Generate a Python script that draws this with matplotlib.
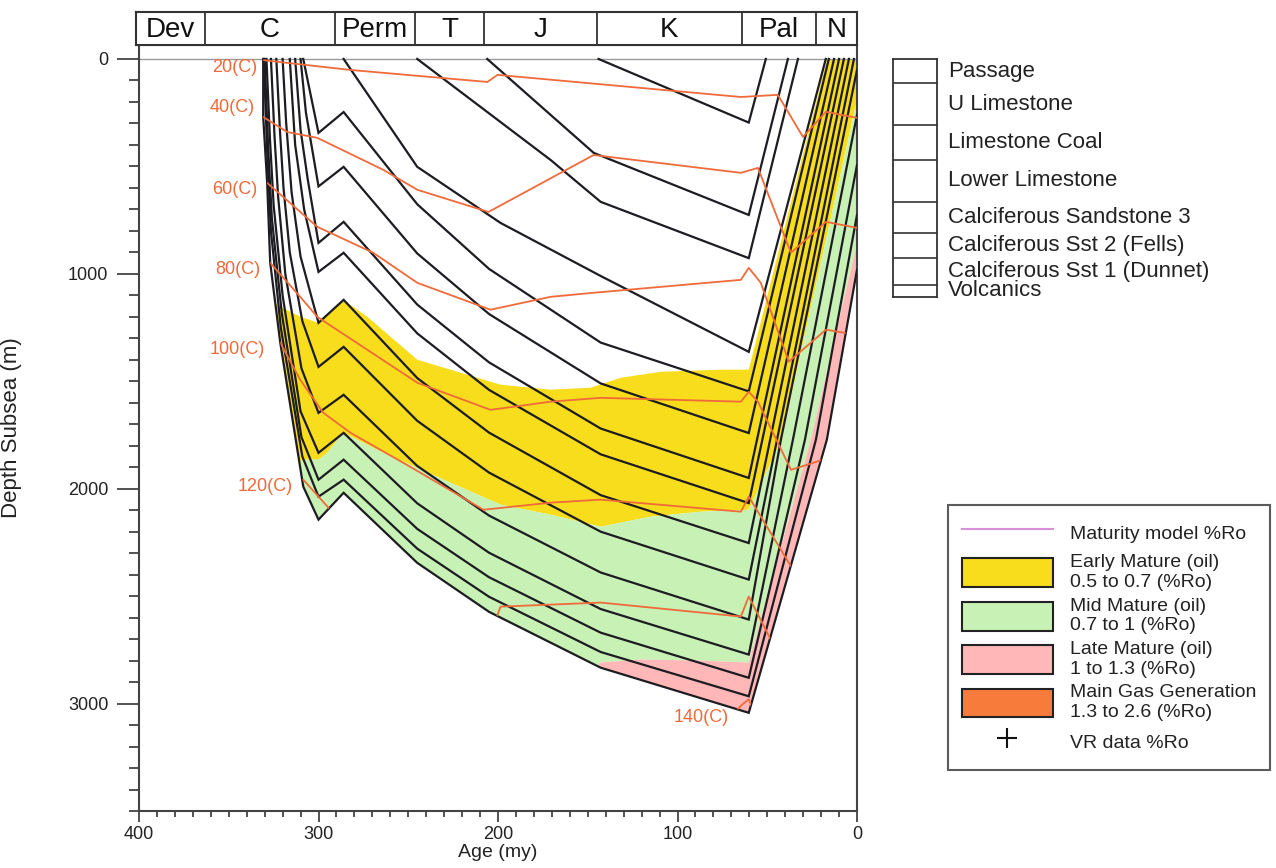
import matplotlib
matplotlib.use("Agg")
import matplotlib.pyplot as plt
from matplotlib.patches import Polygon, Patch
from matplotlib.lines import Line2D
from matplotlib.ticker import MultipleLocator, FixedLocator

plt.rcParams['font.family'] = ['Liberation Sans', 'DejaVu Sans']

# ---------------- data ----------------
period_names = ["Dev", "C", "Perm", "T", "J", "K", "Pal", "N"]
period_bounds = [401.7, 363, 291, 246, 208, 145, 64, 23, 0]

# burial curves (age Ma, depth m) - upper units (later eroded)
A_age = [144, 60.3, 50.8]
A_dep = [0, 296, 0]
B_age = [206, 146.7, 60.3, 38.5]
B_dep = [0, 437, 726, 0]
C_age = [245, 170.7, 142.8, 60.3, 32.9]
C_dep = [0, 470, 665, 927, 0]
D_age = [286, 245, 198.6, 142.8, 60.3, 17.4]
D_dep = [0, 502, 763, 1010, 1363, 0]
# Carboniferous units
L1_age = [308.5, 300, 286, 245, 205, 142.8, 60.3, 15.7]
L1_dep = [0, 344, 247, 676, 977, 1320, 1547, 0]
L2_age = [310, 307, 300, 286, 245, 205, 142.8, 60.3, 12.8]
L2_dep = [0, 250, 593, 502, 905, 1187, 1510, 1741, 0]
L3_age = [313, 310, 306, 300, 286, 245, 205, 142.8, 60.3, 10.0]
L3_dep = [0, 330, 560, 856, 758, 1143, 1412, 1720, 1950, 0]
L4_age = [316, 313, 308, 300, 286, 245, 205, 142.8, 60.3, 7.3]
L4_dep = [0, 400, 700, 991, 902, 1277, 1540, 1840, 2067, 0]
L5_age = [320, 318, 315, 310, 300, 286, 245, 205, 142.8, 60.3, 4.5]
L5_dep = [0, 300, 620, 920, 1228, 1121, 1485, 1739, 2030, 2253, 0]
L6_age = [323.5, 321.5, 319.5, 316, 309, 300, 286, 245, 205, 142.8, 60.3, 1.7]
L6_dep = [0, 330, 600, 900, 1220, 1433, 1340, 1684, 1925, 2200, 2423, 0]
L7_age = [326.5, 324.5, 322.5, 318.5, 309.5, 300, 286, 245, 205, 142.8, 60.3, 42.4, 0]
L7_dep = [0, 360, 640, 1000, 1440, 1647, 1563, 1894, 2125, 2390, 2609, 1772, 51]
L8_age = [329, 327, 325, 320, 310, 300, 286, 245, 205, 142.8, 60.3, 35.7, 0]
L8_dep = [0, 380, 680, 1100, 1640, 1833, 1740, 2068, 2298, 2560, 2772, 1772, 260]
L9_age = [330, 328, 326, 320.5, 309.5, 300, 286, 245, 205, 142.8, 60.3, 29.0, 0]
L9_dep = [0, 420, 740, 1180, 1760, 1958, 1865, 2187, 2412, 2670, 2880, 1772, 493]
L10_age = [330.5, 328.5, 326.5, 321, 309, 300, 286, 245, 205, 142.8, 60.3, 22.9, 0]
L10_dep = [0, 450, 800, 1250, 1850, 2037, 1958, 2279, 2503, 2760, 2966, 1772, 726]
base_age = [330.8, 330.8, 328.6, 326.9, 321.3, 308.5, 300, 286, 245, 205, 142.8, 60.3, 16.8, 0]
base_dep = [0, 270, 577, 949, 1321, 1990, 2144, 2019, 2345, 2573, 2833, 3043, 1772, 981]

# isotherms
T20_age = [331.4, 282.3, 205.9, 200.3, 64.7, 44.1, 30.1, 17.3, 0]
T20_dep = [5, 51, 107, 74, 177, 167, 363, 246, 274]
T40_age = [330.8, 317.4, 300.7, 263.9, 244.9, 205.3, 146.7, 64.7, 55.2, 36.8, 17.3, 0]
T40_dep = [270, 340, 367, 516, 609, 712, 447, 530, 507, 902, 758, 786]
T60_age = [328.6, 319.7, 300.7, 269.5, 244.9, 204.2, 170.7, 146.7, 64.7, 60.3, 53.6, 38, 17.3, 0]
T60_dep = [577, 642, 781, 902, 1042, 1167, 1107, 1088, 1028, 972, 1042, 1409, 1260, 1284]
T80_age = [326.9, 310.2, 300.7, 244.9, 204.2, 170.7, 142.8, 64.7, 60.3, 55.2, 36.8, 24, 8]
T80_dep = [949, 1107, 1200, 1507, 1633, 1595, 1577, 1595, 1549, 1595, 1912, 1879, 1830]
T100_age = [321.3, 310.2, 297.4, 282.3, 248.9, 208.1, 170.7, 142.8, 64.7, 60.3, 55.2, 34.0, 26]
T100_dep = [1321, 1493, 1646, 1739, 1898, 2098, 2065, 2051, 2107, 2037, 2107, 2400, 2370]
T120_age = [308.5, 293.4, 285, 245, 205, 198.6, 142.8, 64.7, 60.3, 55.2, 45.2]
T120_dep = [1958, 2098, 2200, 2600, 2700, 2549, 2530, 2595, 2502, 2585, 2749]
T140_age = [80, 64.7, 60.3, 57, 50]
T140_dep = [3150, 3010, 2980, 3050, 3150]
iso_labels = ["20(C)", "40(C)", "60(C)", "80(C)", "100(C)", "120(C)", "140(C)"]
iso_label_age = [334.2, 335.3, 334.2, 332.5, 329.7, 314.6, 87.0]
iso_label_dep = [42, 228, 609, 981, 1353, 1991, 3065]

# maturity (vitrinite reflectance) boundaries
ro05_age = [332, 321.3, 310, 300, 286.2, 272.8, 244.9, 226.5, 198.6, 170.7, 148.4, 131.7, 109.4, 75.9, 60.3, 16.7]
ro05_dep = [1100, 1153, 1200, 1228, 1121, 1200, 1400, 1446, 1516, 1539, 1530, 1484, 1456, 1446, 1446, 0]
ro07_age = [332, 312, 308.6, 300, 295.1, 286.2, 263.9, 226.5, 198.6, 170.7, 142.8, 114.9, 87.0, 60.3, 42.0, 0]
ro07_dep = [2300, 1880, 1865, 1865, 1833, 1740, 1833, 1972, 2074, 2121, 2177, 2130, 2107, 2098, 1772, 190]
ro10_age = [332, 245, 160, 150, 142.8, 120.5, 87.0, 60.3, 25.7, 0]
ro10_dep = [3600, 3000, 2900, 2860, 2809, 2795, 2800, 2809, 1772, 860]

layer_names = ["Passage", "U Limestone", "Limestone Coal", "Lower Limestone",
               "Calciferous Sandstone 3", "Calciferous Sst 2 (Fells)",
               "Calciferous Sst 1 (Dunnet)", "Volcanics"]

# ---------------- style ----------------
YEL = '#f7dd1c'
GRN = '#c8f1b6'
PNK = '#ffb7b7'
ORG = '#f77c3c'
ISO = '#f06a3a'
LINEC = '#1c1c22'
TXT = '#222222'

W, H = 1276, 868
fig = plt.figure(figsize=(W / 100, H / 100), dpi=100)


def px_rect(x0, y0, x1, y1):
    return [x0 / W, 1 - y1 / H, (x1 - x0) / W, (y1 - y0) / H]


ax = fig.add_axes(px_rect(139, 45, 857, 811))
ax.set_xlim(400, 0)
ax.set_ylim(3500, -65)

# envelope of the sediment column (above the base horizon)
env_pts = list(zip(base_age, base_dep)) + [(0, 0), (base_age[0], 0)]
env = Polygon(env_pts, closed=True, facecolor='none', edgecolor='none')
ax.add_patch(env)

top = -60
yellow_pts = list(zip(ro05_age, ro05_dep)) + [(0, top)] + list(zip(ro07_age, ro07_dep))[::-1]
green_pts = list(zip(ro07_age, ro07_dep)) + list(zip(ro10_age, ro10_dep))[::-1]
pink_pts = list(zip(ro10_age, ro10_dep)) + [(0, 5000), (ro10_age[0], 5000)]
for pts, col in [(yellow_pts, YEL), (green_pts, GRN), (pink_pts, PNK)]:
    p = Polygon(pts, closed=True, facecolor=col, edgecolor='none', zorder=1)
    ax.add_patch(p)
    p.set_clip_path(env)

ax.axhline(0, color='#9a9a9a', lw=1.0, zorder=2)

horizons = [(A_age, A_dep), (B_age, B_dep), (C_age, C_dep), (D_age, D_dep),
            (L1_age, L1_dep), (L2_age, L2_dep), (L3_age, L3_dep), (L4_age, L4_dep),
            (L5_age, L5_dep), (L6_age, L6_dep), (L7_age, L7_dep), (L8_age, L8_dep),
            (L9_age, L9_dep), (L10_age, L10_dep), (base_age, base_dep)]
for a, d in horizons:
    ax.plot(a, d, color=LINEC, lw=1.6, zorder=3, solid_joinstyle='miter')

isotherms = [(T20_age, T20_dep), (T40_age, T40_dep), (T60_age, T60_dep),
             (T80_age, T80_dep), (T100_age, T100_dep), (T120_age, T120_dep),
             (T140_age, T140_dep)]
for a, d in isotherms:
    ln, = ax.plot(a, d, color=ISO, lw=1.3, zorder=4)
    ln.set_clip_path(env)

for i, (lab, la, ld) in enumerate(zip(iso_labels, iso_label_age, iso_label_dep)):
    ax.text(la, ld, lab, color=ISO, fontsize=13, ha='center' if i == 6 else 'right',
            va='center', zorder=5)

# axes styling
for s in ax.spines.values():
    s.set_linewidth(1.5)
    s.set_color('#444444')
ax.xaxis.set_major_locator(MultipleLocator(100))
ax.xaxis.set_minor_locator(MultipleLocator(10))
ax.yaxis.set_major_locator(FixedLocator([0, 1000, 2000, 3000]))
ax.yaxis.set_minor_locator(MultipleLocator(100))
ax.tick_params(axis='y', which='major', length=16, width=1.3, pad=6, labelsize=13,
               colors='#444444', labelcolor=TXT)
ax.tick_params(axis='y', which='minor', length=7, width=1.3, colors='#444444')
ax.tick_params(axis='x', which='major', length=8, width=1.3, pad=3, labelsize=13,
               colors='#444444', labelcolor=TXT)
ax.tick_params(axis='x', which='minor', length=4, width=1.3, colors='#444444')
ax.set_ylabel("Depth Subsea (m)", fontsize=16, color=TXT)
ax.set_xlabel("Age (my)", fontsize=14, color=TXT)
ax.yaxis.set_label_coords(-0.163, 0.5)
ax.xaxis.set_label_coords(0.5, -0.043)

# geological time scale bar
tax = fig.add_axes(px_rect(136, 12, 857, 45))
tax.set_xlim(period_bounds[0], period_bounds[-1])
tax.set_ylim(0, 1)
tax.set_xticks([])
tax.set_yticks([])
for s in tax.spines.values():
    s.set_linewidth(1.5)
    s.set_color('#333333')
for b in period_bounds[1:-1]:
    tax.axvline(b, color='#333333', lw=1.3)
for i, name in enumerate(period_names):
    c = (period_bounds[i] + period_bounds[i + 1]) / 2
    tax.text(c, 0.45, name, ha='center', va='center', fontsize=20, color='#111111')

# stratigraphic unit key
slot_edges = [0, 24, 66, 101, 143, 174, 199, 226, 238]
lax = fig.add_axes(px_rect(893, 59, 937, 297))
lax.set_xlim(0, 44)
lax.set_ylim(238, 0)
lax.set_xticks([])
lax.set_yticks([])
for s in lax.spines.values():
    s.set_linewidth(1.3)
    s.set_color('#333333')
for e in slot_edges[1:-1]:
    lax.axhline(e, color='#333333', lw=1.2)
for i, name in enumerate(layer_names):
    yc = (slot_edges[i] + slot_edges[i + 1]) / 2
    lax.text(55, yc, name, ha='left', va='center', fontsize=16, color=TXT, clip_on=False)

# maturity legend
handles = [Line2D([], [], color='#d890dc', lw=1.5),
           Patch(facecolor=YEL, edgecolor='#222222', lw=1.5),
           Patch(facecolor=GRN, edgecolor='#222222', lw=1.5),
           Patch(facecolor=PNK, edgecolor='#222222', lw=1.5),
           Patch(facecolor=ORG, edgecolor='#222222', lw=1.5),
           Line2D([], [], color='#111111', marker='+', ls='none', ms=15, mew=1.5)]
labels = ["Maturity model %Ro",
          "Early Mature (oil)\n0.5 to 0.7 (%Ro)",
          "Mid Mature (oil)\n0.7 to 1 (%Ro)",
          "Late Mature (oil)\n1 to 1.3 (%Ro)",
          "Main Gas Generation\n1.3 to 2.6 (%Ro)",
          "VR data %Ro"]
leg = fig.legend(handles, labels, loc='upper left', bbox_to_anchor=(948 / W, 1 - 505 / H),
                 bbox_transform=fig.transFigure, borderaxespad=0, fontsize=14,
                 handlelength=4.7, handleheight=1.9, handletextpad=0.9,
                 labelspacing=0.35, borderpad=0.7, frameon=True, fancybox=False,
                 edgecolor='#333333')
leg.get_frame().set_linewidth(1.5)
for t in leg.get_texts():
    t.set_color(TXT)

fig.savefig("out.png", dpi=100)
